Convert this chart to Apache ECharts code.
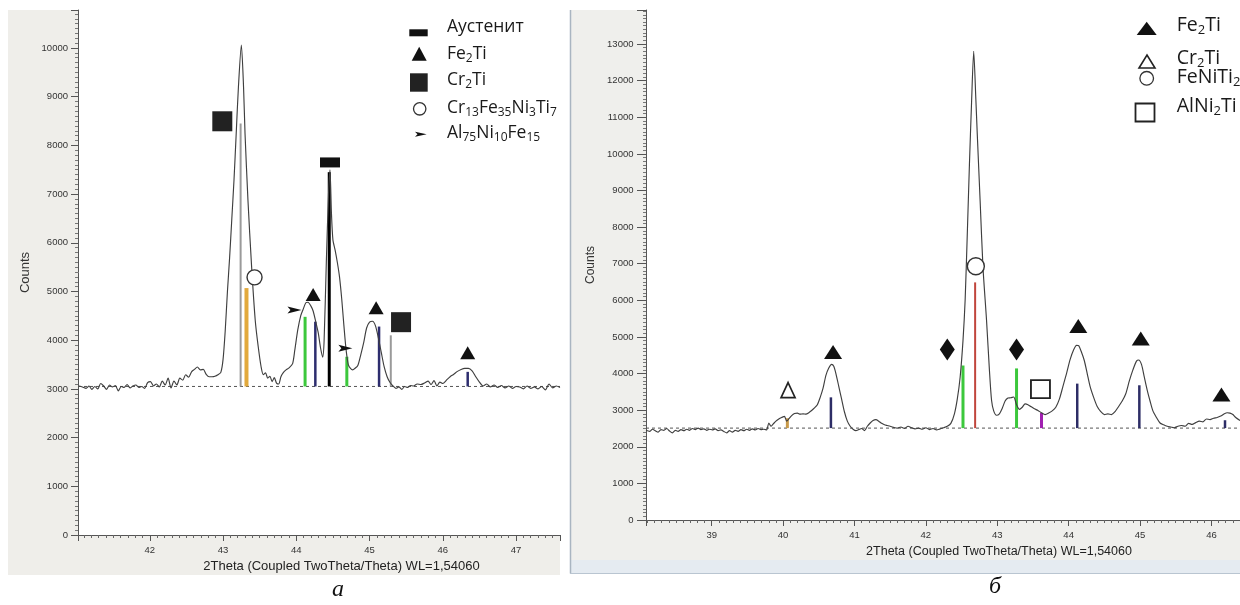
<!DOCTYPE html>
<html><head><meta charset="utf-8">
<script src="https://cdn.jsdelivr.net/npm/echarts@6/dist/echarts.min.js"></script>
<style>html,body{margin:0;padding:0;background:#fff}#c{width:1240px;height:605px}</style>
</head><body><div id="c"></div>
<script>
// ---------------- Panel а ----------------
const xTitle = '2Theta (Coupled TwoTheta/Theta) WL=1,54060';
const yTitle = 'Counts';
const profileA = [
[41.03,3060],[41.08,3040],[41.13,3010],[41.17,3060],[41.21,2990],[41.25,3050],[41.29,3000],[41.33,3110],
[41.37,3060],[41.41,2990],[41.45,3080],[41.49,3040],[41.53,3070],[41.57,2960],[41.61,3050],[41.65,3030],
[41.69,3090],[41.73,3020],[41.77,3060],[41.81,3080],[41.85,3030],[41.89,3050],[41.93,3010],[41.97,3130],
[42.01,3150],[42.05,3060],[42.09,3100],[42.13,3040],[42.17,3160],[42.21,3080],[42.25,3220],[42.29,3020],
[42.33,3160],[42.37,3080],[42.41,3220],[42.45,3180],[42.49,3290],[42.53,3240],[42.57,3350],[42.61,3400],
[42.65,3450],[42.69,3390],[42.73,3400],[42.77,3300],[42.81,3250],[42.85,3250],[42.89,3260],[42.93,3290],
[42.97,3340],[43.00,3600],[43.03,4200],[43.06,5000],[43.09,5700],[43.12,6500],[43.15,7300],[43.18,8250],
[43.21,9200],[43.25,10060],[43.28,9200],[43.30,8250],[43.34,6880],[43.39,5510],[43.44,4400],[43.48,3870],
[43.52,3450],[43.55,3290],[43.58,3330],[43.61,3220],[43.64,3260],[43.67,3150],[43.70,3230],[43.73,3120],
[43.76,3100],[43.79,3250],[43.82,3330],[43.86,3390],[43.90,3430],[43.95,3520],[43.98,3800],[44.02,4210],
[44.06,4500],[44.09,4620],[44.13,4770],[44.16,4780],[44.20,4700],[44.23,4600],[44.27,4350],[44.30,4150],
[44.33,3850],[44.36,3650],[44.38,4000],[44.41,5600],[44.44,7000],[44.46,7500],[44.48,6600],[44.50,6060],
[44.53,5850],[44.56,5600],[44.59,5300],[44.62,4850],[44.65,4300],[44.68,3800],[44.71,3500],[44.74,3420],
[44.77,3390],[44.80,3420],[44.84,3480],[44.88,3700],[44.92,3950],[44.96,4250],[45.00,4370],[45.04,4390],
[45.08,4300],[45.12,4050],[45.16,3750],[45.20,3450],[45.24,3250],[45.28,3130],[45.32,3060],[45.36,3010],
[45.40,3040],[45.44,2990],[45.48,3050],[45.52,3030],[45.56,3070],[45.60,3060],[45.65,3100],[45.70,3090],
[45.75,3120],[45.80,3160],[45.84,3090],[45.88,3170],[45.92,3060],[45.96,3140],[46.00,3110],[46.05,3180],
[46.10,3250],[46.15,3300],[46.20,3360],[46.25,3400],[46.30,3420],[46.35,3420],[46.40,3370],[46.45,3250],
[46.50,3140],[46.55,3060],[46.60,3100],[46.65,3040],[46.70,3080],[46.75,3030],[46.80,3070],[46.85,3020],
[46.90,3060],[46.95,3010],[47.00,3050],[47.05,3040],[47.10,3000],[47.15,3060],[47.20,3010],[47.25,3040],
[47.30,3000],[47.35,3050],[47.40,2980],[47.45,3100],[47.50,3020],[47.55,3060],[47.60,3030]
];
const baselineA = 3050;
const stickXA     = [43.24, 43.32, 44.12, 44.26, 44.45, 44.69, 45.13, 45.29, 46.34];
const stickTopA   = [8450, 5070, 4480, 4380, 7450, 3660, 4280, 4100, 3350];
const stickPhaseA = ['Cr2Ti','CrFeNiTi','AlNiFe','Fe2Ti','Aust','AlNiFe','Fe2Ti','Cr2Ti','Fe2Ti'];
const markA_Aust     = [[44.46, 7650]];
const markA_Fe2Ti    = [[44.23, 4940], [45.09, 4665], [46.34, 3740]];
const markA_Cr2Ti    = [[42.99, 8495], [45.43, 4370]];
const markA_CrFeNiTi = [[43.43, 5290]];
const markA_AlNiFe   = [[43.975, 4620], [44.67, 3835]];

// ---------------- Panel б ----------------
const profileB = [
[38.08,2450],[38.13,2420],[38.17,2480],[38.21,2440],[38.25,2400],[38.29,2470],[38.33,2450],[38.37,2500],
[38.41,2430],[38.45,2380],[38.49,2450],[38.53,2420],[38.57,2470],[38.61,2440],[38.65,2480],[38.69,2450],
[38.73,2500],[38.77,2470],[38.81,2510],[38.85,2470],[38.89,2490],[38.93,2450],[38.97,2480],[39.01,2460],
[39.05,2490],[39.09,2440],[39.13,2460],[39.17,2420],[39.21,2380],[39.25,2440],[39.29,2400],[39.33,2450],
[39.37,2420],[39.41,2470],[39.45,2440],[39.49,2480],[39.53,2450],[39.57,2490],[39.61,2460],[39.65,2500],
[39.69,2470],[39.73,2480],[39.77,2460],[39.80,2650],[39.83,2560],[39.86,2620],[39.90,2700],[39.94,2760],
[39.98,2800],[40.02,2830],[40.05,2700],[40.08,2760],[40.12,2850],[40.16,2910],[40.20,2920],[40.24,2890],
[40.28,2900],[40.32,2890],[40.36,2930],[40.40,2990],[40.44,3060],[40.48,3150],[40.52,3350],[40.56,3600],
[40.60,3950],[40.64,4150],[40.68,4250],[40.71,4200],[40.74,4000],[40.78,3650],[40.82,3300],[40.86,2950],
[40.90,2700],[40.94,2560],[40.98,2480],[41.02,2440],[41.06,2470],[41.10,2500],[41.14,2440],[41.18,2560],
[41.22,2650],[41.26,2720],[41.30,2740],[41.34,2700],[41.38,2640],[41.42,2600],[41.46,2580],[41.50,2560],
[41.55,2530],[41.60,2510],[41.65,2540],[41.70,2500],[41.75,2560],[41.80,2520],[41.85,2490],[41.90,2510],
[41.95,2480],[42.00,2520],[42.05,2470],[42.10,2500],[42.15,2460],[42.20,2490],[42.25,2520],[42.30,2560],
[42.35,2640],[42.40,2900],[42.44,3300],[42.48,3900],[42.52,4900],[42.55,6000],[42.58,7800],[42.61,9700],
[42.64,11400],[42.67,12800],[42.70,11500],[42.72,10540],[42.76,8720],[42.80,6900],[42.85,5450],[42.89,4100],
[42.92,3270],[42.95,2980],[42.99,2860],[43.03,2900],[43.07,3050],[43.11,3250],[43.15,3330],[43.19,3340],
[43.23,3360],[43.27,3150],[43.31,3020],[43.35,3080],[43.39,3170],[43.43,3150],[43.47,3100],[43.52,3040],
[43.57,2990],[43.62,2930],[43.67,2880],[43.72,2920],[43.77,2980],[43.82,3080],[43.87,3300],[43.92,3650],
[43.97,4000],[44.02,4380],[44.07,4650],[44.11,4770],[44.14,4760],[44.18,4580],[44.22,4350],[44.26,4000],
[44.30,3650],[44.35,3350],[44.40,3100],[44.45,2960],[44.50,2880],[44.55,2900],[44.60,2880],[44.65,2960],
[44.70,3100],[44.75,3250],[44.80,3450],[44.85,3800],[44.90,4100],[44.95,4340],[44.98,4370],[45.02,4250],
[45.06,3900],[45.10,3550],[45.14,3250],[45.18,2980],[45.23,2800],[45.28,2650],[45.33,2600],[45.38,2560],
[45.43,2540],[45.48,2520],[45.53,2560],[45.58,2580],[45.63,2560],[45.68,2640],[45.73,2610],[45.78,2660],
[45.83,2700],[45.88,2680],[45.93,2760],[45.98,2740],[46.03,2780],[46.08,2800],[46.13,2840],[46.18,2900],
[46.22,2930],[46.26,2920],[46.30,2880],[46.34,2800],[46.40,2720]
];
const baselineB = 2510;
const stickXB     = [40.06, 40.67, 42.52, 42.69, 43.27, 43.62, 44.12, 44.99, 46.19];
const stickTopB   = [2780, 3350, 4220, 6490, 4140, 2925, 3725, 3680, 2725];
const stickPhaseB = ['Cr2Ti','Fe2Ti','Diamond','FeNiTi2','Diamond','AlNi2Ti','Fe2Ti','Fe2Ti','Fe2Ti'];
const markB_Fe2Ti   = [[40.70, 4590], [44.135, 5300], [45.01, 4960], [46.14, 3430]];
const markB_Cr2Ti   = [[40.07, 3550]];
const markB_Diamond = [[42.30, 4655], [43.27, 4655]];
const markB_FeNiTi2 = [[42.70, 6930]];
const markB_AlNi2Ti = [[43.605, 3575]];

// ---------------- styles ----------------
const stickStyleA = {
  Cr2Ti:{c:'#9a9a9a',w:2}, CrFeNiTi:{c:'#e2a93c',w:4}, AlNiFe:{c:'#3cc83c',w:3},
  Fe2Ti:{c:'#2d2d6e',w:2.5}, Aust:{c:'#000000',w:3}
};
const stickStyleB = {
  Cr2Ti:{c:'#c89a4a',w:3}, Fe2Ti:{c:'#2d2d66',w:2.5}, Diamond:{c:'#3cc83c',w:3},
  FeNiTi2:{c:'#c0453c',w:2}, AlNi2Ti:{c:'#a020b0',w:3}
};
const FONT = 'Liberation Sans';

function stickSeries(idx, xs, tops, phases, base, styles){
  return {
    type:'custom', xAxisIndex:idx, yAxisIndex:idx, z:3,
    data: xs.map((x,i)=>[x, tops[i], i]),
    renderItem:(params, api)=>{
      const i = api.value(2);
      const st = styles[phases[i]];
      const p0 = api.coord([api.value(0), base]);
      const p1 = api.coord([api.value(0), api.value(1)]);
      return {type:'line', shape:{x1:p0[0],y1:p0[1],x2:p1[0],y2:p1[1]},
        style:{stroke:st.c, lineWidth:st.w}};
    }
  };
}
function profileSeries(idx, data){
  return {type:'line', xAxisIndex:idx, yAxisIndex:idx, data, showSymbol:false, smooth:0.25,
    lineStyle:{color:'#3f3f3f', width:1.15}, z:4, silent:true};
}
function baseSeries(idx, x0, x1, v){
  return {type:'line', xAxisIndex:idx, yAxisIndex:idx, data:[[x0,v],[x1,v]], showSymbol:false,
    lineStyle:{color:'#555', width:1, type:[3,3]}, z:2, silent:true};
}
function mark(idx, name, data, symbol, size, fill, stroke, bw){
  return {type:'scatter', name, xAxisIndex:idx, yAxisIndex:idx, data, symbol, symbolSize:size,
    itemStyle:{color:fill, borderColor:stroke||'#111', borderWidth:bw||0, opacity:1}, z:6, clip:false, silent:true};
}
const plain = v => String(v);
function xAxisOpt(idx, min, max, split, fs, pad){
  return {type:'value', gridIndex:idx, min, max, splitNumber:split,
    name:xTitle, nameLocation:'middle', nameGap:25,
    nameTextStyle:{fontFamily:FONT, fontSize:fs, color:'#222', padding:[0,0,0,pad]},
    axisLine:{show:true, lineStyle:{color:'#555', width:1}},
    axisTick:{show:true, length:6, lineStyle:{color:'#555'}},
    minorTick:{show:true, splitNumber:10, length:3, lineStyle:{color:'#666'}},
    axisLabel:{fontFamily:FONT, fontSize:9.5, color:'#333', margin:10, showMinLabel:false, showMaxLabel:false, formatter:plain},
    splitLine:{show:false}, minorSplitLine:{show:false}};
}
function yAxisOpt(idx, max, gap, fs, margin, tl){
  return {type:'value', gridIndex:idx, min:0, max, interval:1000,
    name:yTitle, nameLocation:'middle', nameGap:gap,
    nameTextStyle:{fontFamily:FONT, fontSize:fs, color:'#333'},
    axisLine:{show:true, lineStyle:{color:'#555', width:1}},
    axisTick:{show:true, length:tl, lineStyle:{color:'#555'}},
    minorTick:{show:true, splitNumber:10, length:3, lineStyle:{color:'#777'}},
    axisLabel:{fontFamily:FONT, fontSize:9.5, color:'#333', margin, showMaxLabel:false, formatter:plain},
    splitLine:{show:false}, minorSplitLine:{show:false}};
}

const arrowPath = 'path://M0,0L14,4L0,8L3,4Z';
const TRI = 'triangle';

const lgFont = 'Open Sans';
function lgText(x, y, text, fs, sub){
  return {type:'text', x, y, z:100, style:{text, fontFamily:lgFont, fontSize:fs, fill:'#1a1a1a',
    verticalAlign:'middle', lineHeight:fs+4,
    rich:{s:{fontFamily:lgFont, fontSize:sub, fill:'#1a1a1a', verticalAlign:'bottom', lineHeight:sub}}}};
}

const graphic = [
  // panel а background
  {type:'rect', z:-100, shape:{x:8,y:10,width:552,height:565}, style:{fill:'#efeeea'}},
  {type:'rect', z:-99, shape:{x:78,y:10,width:482,height:525}, style:{fill:'#ffffff'}},
  // panel б background
  {type:'rect', z:-100, shape:{x:571,y:10,width:669,height:563}, style:{fill:'#efefec'}},
  {type:'rect', z:-99, shape:{x:571,y:560,width:669,height:13}, style:{fill:'#e5ebf1'}},
  {type:'line', z:-98, shape:{x1:570.5,y1:10,x2:570.5,y2:573.5}, style:{stroke:'#a9b5c1', lineWidth:1.5}},
  {type:'line', z:-98, shape:{x1:570,y1:573.5,x2:1240,y2:573.5}, style:{stroke:'#b9c5d1', lineWidth:1}},
  {type:'rect', z:-99, shape:{x:646,y:10,width:594,height:510}, style:{fill:'#ffffff'}},
  // legend а
  {type:'rect', z:100, shape:{x:409.3,y:29.3,width:18.4,height:7}, style:{fill:'#111'}},
  {type:'polygon', z:100, shape:{points:[[411.7,60.7],[426.7,60.7],[419.2,46.7]]}, style:{fill:'#111'}},
  {type:'rect', z:100, shape:{x:410,y:73.3,width:17.7,height:18.4}, style:{fill:'#222'}},
  {type:'circle', z:100, shape:{cx:419.7,cy:108.8,r:6.2}, style:{fill:'#fff', stroke:'#333', lineWidth:1.3}},
  {type:'polygon', z:100, shape:{points:[[415,131.7],[426.7,134.2],[415,136.7],[417.5,134.2]]}, style:{fill:'#111'}},
  lgText(447, 27, 'Аустенит', 17.5, 12),
  lgText(447, 54, 'Fe{s|2}Ti', 17.5, 12),
  lgText(447, 80, 'Cr{s|2}Ti', 17.5, 12),
  lgText(447, 108, 'Cr{s|13}Fe{s|35}Ni{s|3}Ti{s|7}', 17.5, 12),
  lgText(447, 133, 'Al{s|75}Ni{s|10}Fe{s|15}', 17.5, 12),
  // legend б
  {type:'polygon', z:100, shape:{points:[[1136.7,35],[1156.7,35],[1146.7,21.7]]}, style:{fill:'#111'}},
  {type:'polygon', z:100, shape:{points:[[1139,68],[1155,68],[1147,55]]}, style:{fill:'none', stroke:'#222', lineWidth:1.6}},
  {type:'circle', z:100, shape:{cx:1146.7,cy:78.3,r:6.8}, style:{fill:'none', stroke:'#333', lineWidth:1.3}},
  {type:'rect', z:100, shape:{x:1135.5,y:103.5,width:19,height:18}, style:{fill:'none', stroke:'#222', lineWidth:1.8}},
  lgText(1176.7, 25, 'Fe{s|2}Ti', 19.5, 13),
  lgText(1176.7, 58, 'Cr{s|2}Ti', 19.5, 13),
  lgText(1176.7, 77, 'FeNiTi{s|2}', 19.5, 13),
  lgText(1176.7, 106, 'AlNi{s|2}Ti', 19.5, 13),
  // panel captions
  {type:'text', x:338, y:590, z:100, style:{text:'а', fontFamily:'Liberation Serif', fontStyle:'italic', fontSize:24, fill:'#111', align:'center', verticalAlign:'middle'}},
  {type:'text', x:995, y:587, z:100, style:{text:'б', fontFamily:'Liberation Serif', fontStyle:'italic', fontSize:24, fill:'#111', align:'center', verticalAlign:'middle'}}
];

const option = {
  animation:false,
  backgroundColor:'#ffffff',
  grid:[
    {left:78, top:10, width:482, height:525, outerBoundsMode:'none', containLabel:false},
    {left:646, top:10, width:594, height:510, outerBoundsMode:'none', containLabel:false}
  ],
  xAxis:[ xAxisOpt(0, 41.02, 47.6, 7, 13, 45), xAxisOpt(1, 38.08, 46.4, 8, 12.5, 112) ],
  yAxis:[ yAxisOpt(0, 10780, 46, 13, 10, 7), yAxisOpt(1, 13930, 49, 12, 12.5, 9) ],
  graphic,
  series:[
    baseSeries(0, 41.02, 47.6, baselineA),
    stickSeries(0, stickXA, stickTopA, stickPhaseA, baselineA, stickStyleA),
    profileSeries(0, profileA),
    mark(0, 'Аустенит', markA_Aust, 'rect', [20,10], '#111'),
    mark(0, 'Fe2Ti', markA_Fe2Ti, TRI, [15,13], '#111'),
    mark(0, 'Cr2Ti', markA_Cr2Ti, 'rect', [20,20], '#222'),
    mark(0, 'Cr13Fe35Ni3Ti7', markA_CrFeNiTi, 'circle', 15, '#fff', '#333', 1.4),
    mark(0, 'Al75Ni10Fe15', markA_AlNiFe, arrowPath, [14,7], '#111'),

    baseSeries(1, 38.08, 46.4, baselineB),
    stickSeries(1, stickXB, stickTopB, stickPhaseB, baselineB, stickStyleB),
    profileSeries(1, profileB),
    mark(1, 'Fe2Ti', markB_Fe2Ti, TRI, [18,14], '#111'),
    mark(1, 'Cr2Ti', markB_Cr2Ti, TRI, [14,15], 'rgba(0,0,0,0)', '#222', 1.7),
    mark(1, 'Diamond', markB_Diamond, 'diamond', [15,22], '#111'),
    mark(1, 'FeNiTi2', markB_FeNiTi2, 'circle', 17, '#fff', '#333', 1.4),
    mark(1, 'AlNi2Ti', markB_AlNi2Ti, 'rect', [19,18], 'rgba(0,0,0,0)', '#222', 1.8)
  ]
};
const chart = echarts.init(document.getElementById('c'), null, {renderer:'canvas'});
chart.setOption(option);
</script></body></html>
